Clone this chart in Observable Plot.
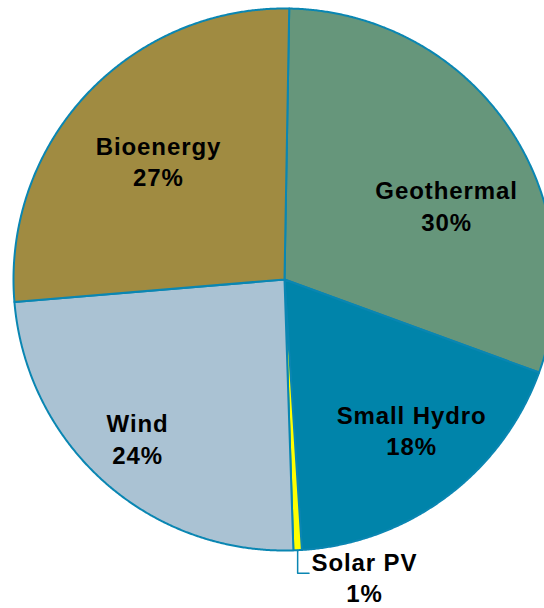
<!DOCTYPE html>
<html>
<head>
<meta charset="utf-8">
<script src="https://cdn.jsdelivr.net/npm/d3@7"></script>
<script src="https://cdn.jsdelivr.net/npm/@observablehq/plot@0.6"></script>
<style>
  html, body { margin: 0; padding: 0; background: #ffffff; }
  #chart svg { display: block; }
  #chart svg text { letter-spacing: 0.9px; }
</style>
</head>
<body>
<div id="chart"></div>
<script>
// ---- data ----
const categories = ["Geothermal", "Small Hydro", "Solar PV", "Wind", "Bioenergy"];
const shares = [30.3, 18.4, 0.5, 24.2, 26.6];
const shareLabels = ["30%", "18%", "1%", "24%", "27%"];
const colors = ["#66967b", "#0084aa", "#ffff00", "#aac2d3", "#a08b41"];

// ---- layout (unit-circle coordinates for labels) ----
const labelAnchors = {
  "Geothermal": [0.598, 0.275],
  "Small Hydro": [0.469, -0.553],
  "Solar PV": [0.295, -1.095],
  "Wind": [-0.542, -0.585],
  "Bioenergy": [-0.465, 0.44]
};
const startDeg = 1;
const cx = 284, cy = 279, R = 271;
const W = 544, H = 608;
const edge = "#0a86b2";

const data = categories.map((c, i) => ({name: c, value: shares[i], label: shareLabels[i]}));
const arcs = d3.pie().sort(null).value(d => d.value)
  .startAngle(startDeg * Math.PI / 180)
  .endAngle((startDeg + 360) * Math.PI / 180)(data);

const polys = [];
for (const a of arcs) {
  polys.push({name: a.data.name, x: 0, y: 0});
  const n = Math.max(2, Math.ceil((a.endAngle - a.startAngle) / 0.005));
  for (let k = 0; k <= n; k++) {
    const t = a.startAngle + (a.endAngle - a.startAngle) * k / n;
    polys.push({name: a.data.name, x: Math.sin(t), y: Math.cos(t)});
  }
}

const labels = data.map(d => ({
  name: d.name,
  text: d.name + "\n" + d.label,
  x: labelAnchors[d.name][0],
  y: labelAnchors[d.name][1]
}));

// leader line for Solar PV
const solar = arcs.find(a => a.data.name === "Solar PV");
const sm = (solar.startAngle + solar.endAngle) / 2;
const lx = Math.sin(sm), ly = Math.cos(sm);
const leader = [
  {x: lx, y: ly},
  {x: lx, y: ly - 0.085},
  {x: lx + 0.042, y: ly - 0.085}
];

const chart = Plot.plot({
  width: W,
  height: H,
  margin: 0,
  style: {background: "#ffffff", overflow: "hidden"},
  x: {type: "linear", domain: [-1, 1], range: [cx - R, cx + R], axis: null},
  y: {type: "linear", domain: [-1, 1], range: [cy + R, cy - R], axis: null},
  color: {domain: categories, range: colors},
  marks: [
    Plot.line(polys, {
      x: "x", y: "y", z: "name", fill: "name",
      stroke: edge, strokeWidth: 2, curve: "linear-closed",
      strokeLinejoin: "round", clip: "frame"
    }),
    Plot.line(leader, {x: "x", y: "y", stroke: edge, strokeWidth: 1.5}),
    Plot.text(labels, {
      x: "x", y: "y", text: "text",
      fontSize: 24, fontWeight: "bold",
      fontFamily: "'Liberation Sans', Arial, sans-serif",
      fill: "#000000", lineHeight: 1.3, textAnchor: "middle"
    })
  ]
});
document.getElementById("chart").appendChild(chart);
</script>
</body>
</html>
